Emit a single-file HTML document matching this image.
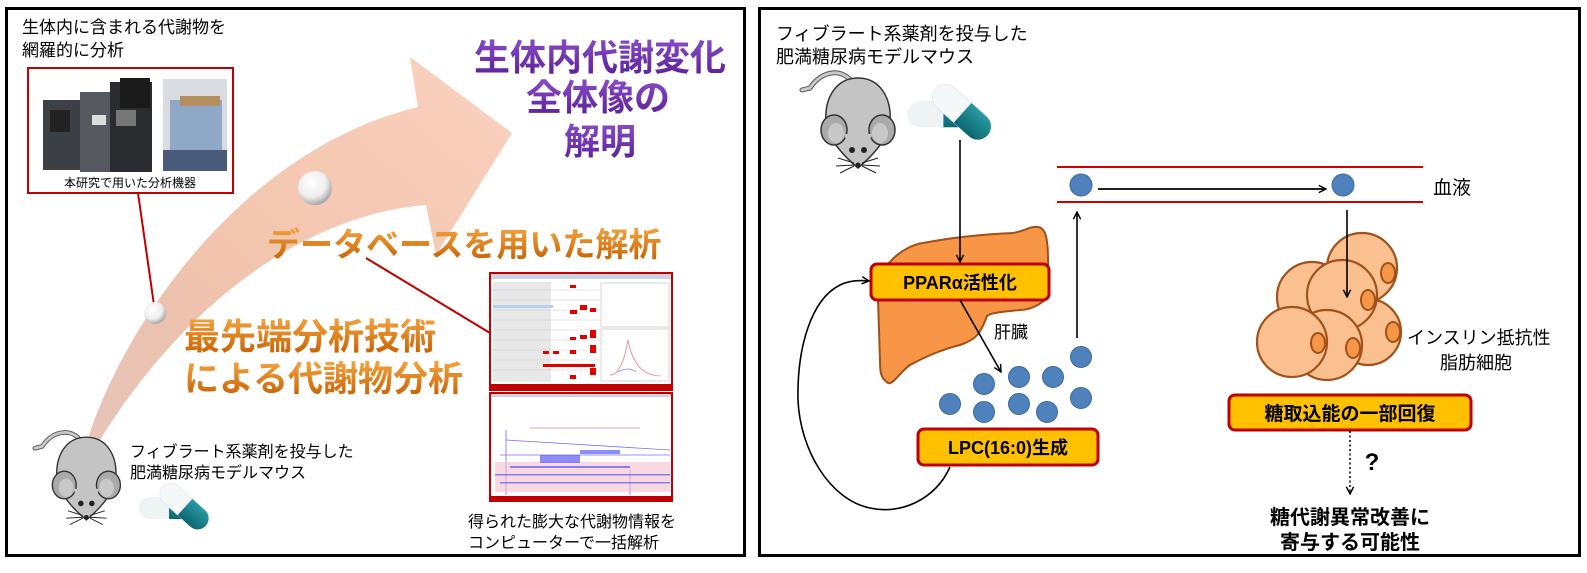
<!DOCTYPE html>
<html><head><meta charset="utf-8"><style>
html,body{margin:0;padding:0;background:#fff;}
svg{display:block;font-family:"Liberation Sans","Noto Sans CJK JP",sans-serif;}
</style></head><body>
<svg width="1587" height="573" viewBox="0 0 1587 573" xmlns="http://www.w3.org/2000/svg">
<defs>
<linearGradient id="arr" x1="0" y1="1" x2="1" y2="0">
<stop offset="0" stop-color="#d8a08c" stop-opacity="0.6"/>
<stop offset="0.4" stop-color="#f2c4ad"/>
<stop offset="1" stop-color="#fad2bf"/>
</linearGradient>
<linearGradient id="org" x1="0" y1="0" x2="0" y2="1">
<stop offset="0" stop-color="#f7a540"/><stop offset="1" stop-color="#c45e00"/>
</linearGradient>
<linearGradient id="pur" x1="0" y1="0" x2="0" y2="1">
<stop offset="0" stop-color="#8a4fc8"/><stop offset="1" stop-color="#5a1e98"/>
</linearGradient>
<radialGradient id="bead" cx="0.4" cy="0.35" r="0.7">
<stop offset="0" stop-color="#ffffff"/><stop offset="0.6" stop-color="#eeeeee"/><stop offset="1" stop-color="#9a9a9a"/>
</radialGradient>
<marker id="ah" viewBox="0 0 10 10" refX="9" refY="5" markerWidth="9" markerHeight="9" orient="auto" markerUnits="userSpaceOnUse">
<path d="M1,1 L9,5 L1,9" fill="none" stroke="#000" stroke-width="1.6"/>
</marker>
<g id="mouse">
<path d="M52,14 C42,0 22,2 10,20 L2,22" fill="none" stroke="#555" stroke-width="5" stroke-linecap="round"/>
<path d="M52,14 C42,0 22,2 10,20 L2,22" fill="none" stroke="#c8c8c8" stroke-width="3" stroke-linecap="round"/>
<path d="M58,10 C80,10 92,30 90,55 C88,72 70,90 58,100 C46,90 28,72 26,55 C24,30 36,10 58,10 Z" fill="#c4c4c4" stroke="#333" stroke-width="1.5"/>
<ellipse cx="34" cy="62" rx="13" ry="15" fill="#aaa" stroke="#333" stroke-width="1.5"/>
<ellipse cx="36" cy="65" rx="8" ry="10" fill="#c8c8c8"/>
<ellipse cx="82" cy="62" rx="13" ry="15" fill="#aaa" stroke="#333" stroke-width="1.5"/>
<ellipse cx="80" cy="65" rx="8" ry="10" fill="#c8c8c8"/>
<path d="M44,66 Q58,110 72,66 Z" fill="#c4c4c4"/>
<circle cx="52" cy="82" r="3" fill="#222"/><circle cx="64" cy="82" r="3" fill="#222"/>
<circle cx="58" cy="97" r="2.5" fill="#222"/>
<path d="M54,95 L38,90 M54,97 L36,98 M54,98 L40,105 M62,95 L78,90 M62,97 L80,98 M62,98 L76,105" stroke="#222" stroke-width="1" fill="none"/>
</g>
<linearGradient id="teal" x1="0" y1="0" x2="0" y2="1"><stop offset="0" stop-color="#2a9aa0"/><stop offset="1" stop-color="#0b6670"/></linearGradient>
<g id="pill">
<rect x="2" y="14" width="58" height="22" rx="11" fill="#eef4f4"/>
<path d="M32,14 H49 A11,11 0 0 1 49,36 H32 Z" fill="url(#teal)"/>
<g transform="translate(48,24) rotate(42)">
<rect x="-30" y="-11" width="58" height="22" rx="11" fill="#f4f8f8" stroke="#dde" stroke-width="0.5"/>
<path d="M0,-11 H17 A11,11 0 0 1 17,11 H0 Z" fill="url(#teal)"/>
</g>
</g>
</defs>

<!-- LEFT PANEL -->
<rect x="6.5" y="8.5" width="738" height="547" fill="#fff" stroke="#000" stroke-width="3"/>

<path d="M86,445 C120,330 240,150 418,107 L410,57 L512,133 L436,255 L426,205 C300,215 180,310 100,440 Z" fill="url(#arr)"/>

<text x="600" y="70" font-size="36" font-weight="bold" fill="url(#pur)" text-anchor="middle">生体内代謝変化</text>
<text x="598" y="110" font-size="36" font-weight="bold" fill="url(#pur)" text-anchor="middle">全体像の</text>
<text x="600" y="154" font-size="36" font-weight="bold" fill="url(#pur)" text-anchor="middle">解明</text>

<text x="22" y="33" font-size="17" fill="#000">生体内に含まれる代謝物を</text>
<text x="22" y="56" font-size="17" fill="#000">網羅的に分析</text>

<rect x="28" y="68" width="205" height="125" fill="#fff" stroke="#c00000" stroke-width="2"/>
<rect x="43" y="100" width="50" height="70" fill="#3c3f44"/>
<rect x="50" y="110" width="20" height="22" fill="#222"/>
<rect x="80" y="92" width="45" height="80" fill="#55585e"/>
<rect x="92" y="115" width="14" height="10" fill="#ddd"/>
<rect x="110" y="82" width="42" height="90" fill="#2a2c30"/>
<rect x="116" y="110" width="20" height="16" fill="#777"/>
<rect x="120" y="78" width="30" height="30" fill="#1a1a1a"/>
<rect x="163" y="79" width="64" height="92" fill="#d8dce0"/>
<rect x="170" y="100" width="52" height="50" fill="#8fa8c8"/>
<rect x="180" y="96" width="40" height="10" fill="#b49060"/>
<rect x="163" y="150" width="64" height="21" fill="#4a5a7a"/>
<text x="130" y="187" font-size="12" text-anchor="middle" fill="#000">本研究で用いた分析機器</text>

<line x1="138" y1="193" x2="154" y2="305" stroke="#c00000" stroke-width="2"/>
<line x1="366" y1="258" x2="490" y2="333" stroke="#c00000" stroke-width="2"/>

<circle cx="315" cy="188" r="17" fill="url(#bead)"/>
<circle cx="155" cy="313" r="11" fill="url(#bead)"/>

<text x="267" y="256" font-size="33" font-weight="bold" fill="url(#org)">データベースを用いた解析</text>
<text x="184" y="349" font-size="36" font-weight="bold" fill="url(#org)">最先端分析技術</text>
<text x="184" y="391" font-size="35" font-weight="bold" fill="url(#org)">による代謝物分析</text>

<rect x="489" y="272" width="184" height="119" fill="#c00000"/>
<rect x="491" y="274" width="180" height="110" fill="#fff"/>
<rect x="491" y="274" width="180" height="5" fill="#c9d3e3"/>
<g fill="#e8e8e8"><rect x="493" y="282" width="58" height="100"/></g>
<g stroke="#ccc" stroke-width="0.5">
<line x1="493" y1="290" x2="600" y2="290"/><line x1="493" y1="300" x2="600" y2="300"/><line x1="493" y1="310" x2="600" y2="310"/><line x1="493" y1="320" x2="600" y2="320"/><line x1="493" y1="330" x2="600" y2="330"/><line x1="493" y1="340" x2="600" y2="340"/><line x1="493" y1="350" x2="600" y2="350"/><line x1="493" y1="360" x2="600" y2="360"/><line x1="493" y1="370" x2="600" y2="370"/>
</g>
<rect x="493" y="305" width="60" height="3" fill="#b8d0ec"/>
<g fill="#e00000">
<rect x="570" y="285" width="6" height="3"/><rect x="580" y="305" width="7" height="5"/><rect x="590" y="308" width="6" height="4"/><rect x="570" y="310" width="7" height="4"/><rect x="580" y="335" width="7" height="4"/><rect x="590" y="330" width="6" height="8"/><rect x="570" y="337" width="6" height="3"/><rect x="543" y="351" width="6" height="3"/><rect x="553" y="351" width="6" height="3"/><rect x="570" y="350" width="6" height="4"/><rect x="590" y="345" width="6" height="8"/><rect x="543" y="364" width="52" height="3"/><rect x="590" y="368" width="6" height="7"/><rect x="570" y="375" width="6" height="4"/>
</g>
<rect x="601" y="283" width="68" height="44" fill="#fff" stroke="#bbb" stroke-width="0.6"/>
<rect x="601" y="329" width="68" height="52" fill="#fff" stroke="#bbb" stroke-width="0.6"/>
<path d="M610,375 Q622,375 628,340 Q634,375 660,376" fill="none" stroke="#f08080" stroke-width="0.8"/>
<path d="M618,372 Q628,366 636,372" fill="none" stroke="#8080f0" stroke-width="0.8"/>

<rect x="489" y="392" width="184" height="110" fill="#c00000"/>
<rect x="491" y="394" width="180" height="102" fill="#fff"/>
<rect x="491" y="394" width="180" height="3" fill="#c9d3e3"/>
<g stroke="#5050ff" stroke-width="0.8" opacity="0.8">
<line x1="506" y1="440" x2="670" y2="450"/><line x1="500" y1="455" x2="670" y2="455"/>
<line x1="506" y1="430" x2="506" y2="495"/><line x1="630" y1="470" x2="630" y2="495"/>
</g>
<rect x="495" y="462" width="175" height="30" fill="#f2b8c8" opacity="0.55"/>
<g fill="#4040ff" opacity="0.6">
<rect x="510" y="466" width="120" height="2"/><rect x="495" y="474" width="175" height="1.5"/><rect x="500" y="482" width="170" height="1.5"/><rect x="540" y="455" width="40" height="8"/><rect x="580" y="450" width="40" height="4"/>
</g>
<line x1="530" y1="428" x2="640" y2="428" stroke="#f08080" stroke-width="0.8"/>

<text x="468" y="527" font-size="16" fill="#000">得られた膨大な代謝物情報を</text>
<text x="468" y="548" font-size="16" fill="#000">コンピューターで一括解析</text>

<use href="#mouse" transform="translate(33,428) scale(0.92)"/>
<use href="#pill" transform="translate(137,483)"/>
<text x="130" y="457" font-size="16" fill="#000">フィブラート系薬剤を投与した</text>
<text x="130" y="478" font-size="16" fill="#000">肥満糖尿病モデルマウス</text>

<!-- RIGHT PANEL -->
<rect x="759.5" y="8.5" width="820" height="547" fill="#fff" stroke="#000" stroke-width="3"/>
<text x="776" y="40" font-size="18" fill="#000">フィブラート系薬剤を投与した</text>
<text x="776" y="63" font-size="18" fill="#000">肥満糖尿病モデルマウス</text>
<use href="#mouse" transform="translate(800,68) scale(1.0)"/>
<use href="#pill" transform="translate(905,84) scale(1.2)"/>

<path d="M890,262 C900,250 915,244 923,243 C960,236 990,234 1013,233 C1025,231 1030,226 1038,227 C1046,228 1048,240 1048,260 L1048,297 C1040,305 1030,310 1020,310 C1000,312 990,313 987,316 C980,335 975,340 960,345 C940,350 925,357 910,365 C900,372 893,385 888,383 C880,378 880,370 880,360 L878,300 C878,280 880,268 890,262 Z" fill="#f79646" stroke="#a05018" stroke-width="2"/>

<line x1="960" y1="140" x2="960" y2="262" stroke="#000" stroke-width="1.6" marker-end="url(#ah)"/>
<rect x="871" y="264" width="178" height="36" rx="6" fill="#ffc000" stroke="#c00000" stroke-width="3"/>
<text x="960" y="289" font-size="18" font-weight="bold" text-anchor="middle" fill="#000">PPARα活性化</text>
<text x="994" y="338" font-size="17" fill="#000">肝臓</text>
<line x1="960" y1="300" x2="1001" y2="372" stroke="#000" stroke-width="1.6" marker-end="url(#ah)"/>

<g fill="#4f81bd" stroke="#3a6aa0" stroke-width="1">
<circle cx="984" cy="384" r="10.5"/><circle cx="1019" cy="377" r="10.5"/><circle cx="1053" cy="377" r="10.5"/><circle cx="1081" cy="357" r="10.5"/><circle cx="1081" cy="398" r="10.5"/><circle cx="950" cy="404" r="10.5"/><circle cx="984" cy="412" r="10.5"/><circle cx="1019" cy="404" r="10.5"/><circle cx="1047" cy="412" r="10.5"/>
</g>
<rect x="918" y="429" width="180" height="36" rx="6" fill="#ffc000" stroke="#c00000" stroke-width="3"/>
<text x="1008" y="454" font-size="18" font-weight="bold" text-anchor="middle" fill="#000">LPC(16:0)生成</text>

<path d="M950,467 C935,500 900,515 870,508 C830,500 800,450 798,400 C797,350 810,300 840,285 C850,280 860,280 869,281" fill="none" stroke="#000" stroke-width="1.6" marker-end="url(#ah)"/>

<line x1="1077" y1="338" x2="1077" y2="212" stroke="#000" stroke-width="1.6" marker-end="url(#ah)"/>

<line x1="1057" y1="167" x2="1423" y2="167" stroke="#d00000" stroke-width="2"/>
<line x1="1057" y1="202" x2="1423" y2="202" stroke="#d00000" stroke-width="2"/>
<circle cx="1081" cy="185" r="11" fill="#4f81bd" stroke="#3a6aa0"/>
<circle cx="1343" cy="185" r="11" fill="#4f81bd" stroke="#3a6aa0"/>
<line x1="1098" y1="189" x2="1326" y2="189" stroke="#000" stroke-width="1.8" marker-end="url(#ah)"/>
<text x="1433" y="194" font-size="19" fill="#000">血液</text>

<g stroke="#a0521a" stroke-width="2.2" fill="#fac090">
<circle cx="1362" cy="268" r="35"/>
<circle cx="1368" cy="332" r="33"/>
<circle cx="1312" cy="297" r="35"/>
<circle cx="1342" cy="295" r="35"/>
<circle cx="1327" cy="345" r="35"/>
<circle cx="1292" cy="342" r="35"/>
</g>
<g stroke="#a0521a" stroke-width="2" fill="#f79646">
<ellipse cx="1388" cy="273" rx="7" ry="10"/><ellipse cx="1368" cy="300" rx="7" ry="10"/><ellipse cx="1393" cy="332" rx="7" ry="10"/><ellipse cx="1318" cy="343" rx="7" ry="10"/><ellipse cx="1353" cy="348" rx="7" ry="10"/>
</g>
<line x1="1347" y1="210" x2="1347" y2="297" stroke="#000" stroke-width="1.6" marker-end="url(#ah)"/>
<text x="1407" y="344" font-size="18" fill="#000">インスリン抵抗性</text>
<text x="1440" y="369" font-size="18" fill="#000">脂肪細胞</text>

<rect x="1229" y="395" width="242" height="35" rx="6" fill="#ffc000" stroke="#c00000" stroke-width="3"/>
<text x="1350" y="420" font-size="19" font-weight="bold" text-anchor="middle" fill="#000">糖取込能の一部回復</text>
<line x1="1350" y1="431" x2="1350" y2="494" stroke="#000" stroke-width="1.5" stroke-dasharray="2,2.5" marker-end="url(#ah)"/>
<text x="1372" y="470" font-size="24" font-weight="bold" text-anchor="middle" fill="#000">?</text>
<text x="1350" y="524" font-size="20" font-weight="bold" text-anchor="middle" fill="#000">糖代謝異常改善に</text>
<text x="1350" y="549" font-size="20" font-weight="bold" text-anchor="middle" fill="#000">寄与する可能性</text>
</svg>
</body></html>
